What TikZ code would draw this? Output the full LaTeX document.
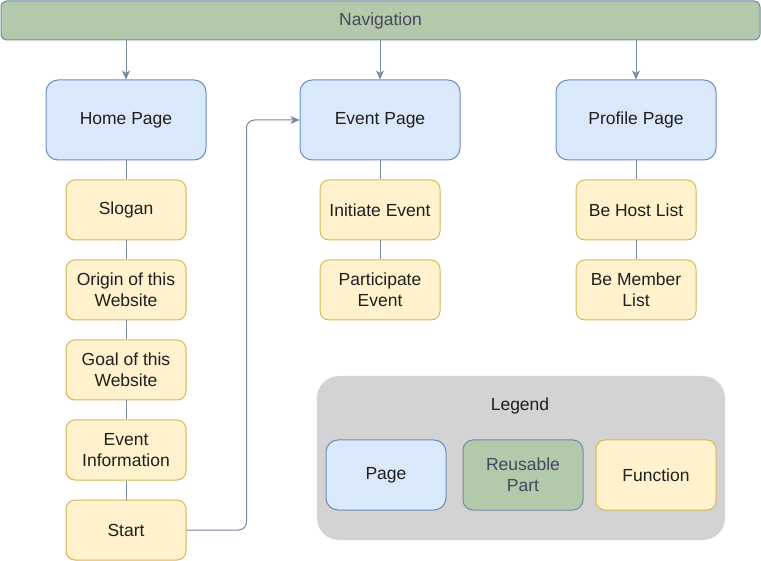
\documentclass[tikz,border=0pt]{standalone}
\usepackage{fontspec}
\setmainfont{Liberation Sans}
\usetikzlibrary{positioning,arrows.meta}

\definecolor{pagefill}{HTML}{DAE8FC}
\definecolor{pageline}{HTML}{6C8EBF}
\definecolor{funcfill}{HTML}{FFF2CC}
\definecolor{funcline}{HTML}{D6B656}
\definecolor{partfill}{HTML}{B2C9AB}
\definecolor{partline}{HTML}{788AA3}
\definecolor{parttext}{HTML}{46495D}
\definecolor{legendfill}{HTML}{D3D3D3}

\begin{document}
\begin{tikzpicture}[x=1pt, y=-1pt, font=\fontsize{17.5}{21}\selectfont,
  page/.style={draw=pageline, fill=pagefill, line width=1pt, rounded corners=12pt,
    minimum width=160pt, minimum height=80pt, align=center, text=black!88},
  func/.style={draw=funcline, fill=funcfill, line width=1pt, rounded corners=9pt,
    minimum width=120pt, minimum height=60pt, align=center, text=black!88},
  part/.style={draw=partline, fill=partfill, line width=1pt, rounded corners=6pt,
    align=center, text=parttext},
  link/.style={draw=partline, line width=1pt},
  navarrow/.style={link, -{Stealth[length=9pt, width=8pt, inset=2.5pt]}}
]
\useasboundingbox (0,0) rectangle (761,561);

% navigation bar
\node[part, minimum width=759pt, minimum height=39pt] (nav) at (380.5,20.5) {Navigation};

% pages
\node[page] (home) at (126,120) {Home Page};
\node[page] (event) at (380,120) {Event Page};
\node[page] (profile) at (636,120) {Profile Page};

\draw[navarrow] (nav.south -| home) -- (home);
\draw[navarrow] (nav.south -| event) -- (event);
\draw[navarrow] (nav.south -| profile) -- (profile);

% home page functions
\node[func] (slogan) at (126,210) {Slogan};
\node[func] (origin) at (126,290) {Origin of this\\Website};
\node[func] (goal) at (126,370) {Goal of this\\Website};
\node[func] (info) at (126,450) {Event\\Information};
\node[func] (start) at (126,530) {Start};
\draw[link] (home) -- (slogan) -- (origin) -- (goal) -- (info) -- (start);

% event page functions
\node[func] (initiate) at (380,210) {Initiate Event};
\node[func] (participate) at (380,290) {Participate\\Event};
\draw[link] (event) -- (initiate) -- (participate);

% profile page functions
\node[func] (host) at (636,210) {Be Host List};
\node[func] (member) at (636,290) {Be Member\\List};
\draw[link] (profile) -- (host) -- (member);

\draw[navarrow, rounded corners=8pt] (start.east) -- ++(60,0) |- (event.west);

% legend
\node[fill=legendfill, rounded corners=22pt, minimum width=408pt, minimum height=164pt]
  (legend) at (521,458) {};
\node[text=black!88] (legendtitle) at (520,406) {Legend};
\node[page, minimum width=120pt, minimum height=70pt] (keypage) at (386,475) {Page};
\node[part, minimum width=120pt, minimum height=70pt, rounded corners=10pt]
  (keypart) at (523,475) {Reusable\\Part};
\node[func, minimum height=70pt] (keyfunc) at (656,475) {Function};
\end{tikzpicture}
\end{document}
